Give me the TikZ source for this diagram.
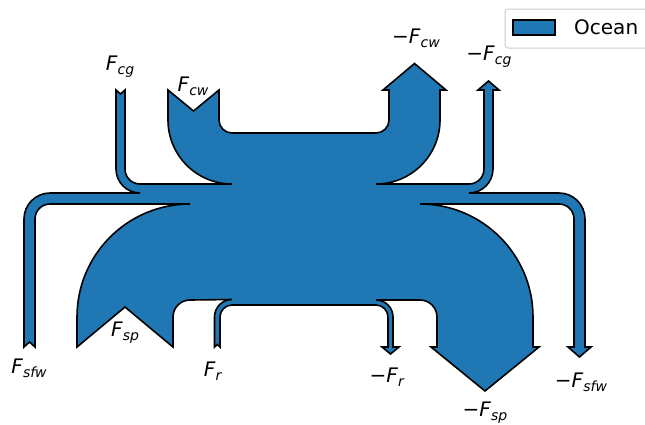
\documentclass[tikz,border=0pt]{standalone}
\usepackage{fontspec}
\setmainfont{DejaVu Sans}
\usepackage{tikz}
\usetikzlibrary{positioning, calc}

\definecolor{oceanblue}{HTML}{1F77B4}
\newcommand{\flowlab}[2]{#1\textit{F}\raisebox{-0.2em}{\fontsize{14}{14}\selectfont\textit{#2}}}

\tikzset{
    flow/.style={fill=oceanblue, draw=black, line width=1.6pt, line join=miter},
    flowlabel/.style={font=\fontsize{20}{24}\selectfont, inner sep=0pt}
}

\begin{document}
\begin{tikzpicture}[x=1pt, y=-1pt]
    \useasboundingbox (0,0) rectangle (645,424);

    % Ocean flows (one closed outline)
    \draw[flow]
        % F_cw in from the top
        (168,90) -- (193.5,111) -- (219,90) -- (219,120)
        arc[start angle=180, end angle=90, radius=13]
        % -F_cw out at the top
        -- (376,133) arc[start angle=90, end angle=0, radius=13]
        -- (389,90) -- (383,90) -- (414.5,63.5) -- (446,90) -- (440,90) -- (440,120)
        arc[start angle=0, end angle=90, radius=64]
        % -F_cg out at the top
        -- (469,184) arc[start angle=90, end angle=0, radius=15]
        -- (484,90) -- (478,90) -- (488.5,81) -- (499,90) -- (493,90) -- (493,169)
        arc[start angle=0, end angle=90, radius=24]
        % -F_sfw out at the bottom
        -- (559,193) arc[start angle=270, end angle=360, radius=26]
        -- (585,347) -- (591,347) -- (579.5,357) -- (568,347) -- (574,347) -- (574,219)
        arc[start angle=360, end angle=270, radius=15]
        % -F_sp out at the bottom
        -- (420,204) arc[start angle=270, end angle=360, radius=113]
        -- (533,347) -- (539,347) -- (485,391) -- (431,347) -- (437,347) -- (437,317)
        arc[start angle=360, end angle=270, radius=17]
        % -F_r out at the bottom
        -- (376,300) arc[start angle=270, end angle=360, radius=17]
        -- (393,347) -- (399,347) -- (390.5,354) -- (382,347) -- (388,347) -- (388,317)
        arc[start angle=360, end angle=270, radius=12]
        % F_r in from the bottom
        -- (232,305) arc[start angle=270, end angle=180, radius=12]
        -- (220,347) -- (217.25,344.5) -- (214.5,347) -- (214.5,317)
        arc[start angle=180, end angle=270, radius=17.5]
        % F_sp in from the bottom
        -- (190,300) arc[start angle=270, end angle=180, radius=17]
        -- (173,347) -- (125,307) -- (77,347) -- (77,317)
        arc[start angle=180, end angle=270, radius=113]
        % F_sfw in from the bottom
        -- (50,204) arc[start angle=270, end angle=180, radius=15]
        -- (35,347) -- (29.5,342) -- (24,347) -- (24,219)
        arc[start angle=180, end angle=270, radius=26]
        % F_cg in from the top
        -- (140,193) arc[start angle=90, end angle=180, radius=24]
        -- (116,90) -- (120.5,94) -- (125,90) -- (125,169)
        arc[start angle=180, end angle=90, radius=15]
        % back to F_cw
        -- (232,184) arc[start angle=90, end angle=180, radius=64]
        -- cycle;

    % Labels
    \node[flowlabel] (lcg)    at (120,67)  {\flowlab{}{cg}};
    \node[flowlabel] (lcw)    at (193,86)  {\flowlab{}{cw}};
    \node[flowlabel] (lmcw)   at (416,38)  {\flowlab{−}{cw}};
    \node[flowlabel] (lmcg)   at (489,57)  {\flowlab{−}{cg}};
    \node[flowlabel] (lsfw)   at (29,368)  {\flowlab{}{sfw}};
    \node[flowlabel] (lsp)    at (125,333) {\flowlab{}{sp}};
    \node[flowlabel] (lr)     at (213,371) {\flowlab{}{r}};
    \node[flowlabel] (lmr)    at (387,377) {\flowlab{−}{r}};
    \node[flowlabel] (lmsp)   at (485,413) {\flowlab{−}{sp}};
    \node[flowlabel] (lmsfw)  at (581,382) {\flowlab{−}{sfw}};

    % Legend
    \draw[draw=black!20, fill=white, rounded corners=3pt, line width=1pt] (505,9) rectangle (665,48);
    \draw[fill=oceanblue, draw=black, line width=1.6pt] (513,20) rectangle (555,35);
    \node[flowlabel, anchor=west] (ocean) at (574,27.5) {Ocean};
\end{tikzpicture}
\end{document}
